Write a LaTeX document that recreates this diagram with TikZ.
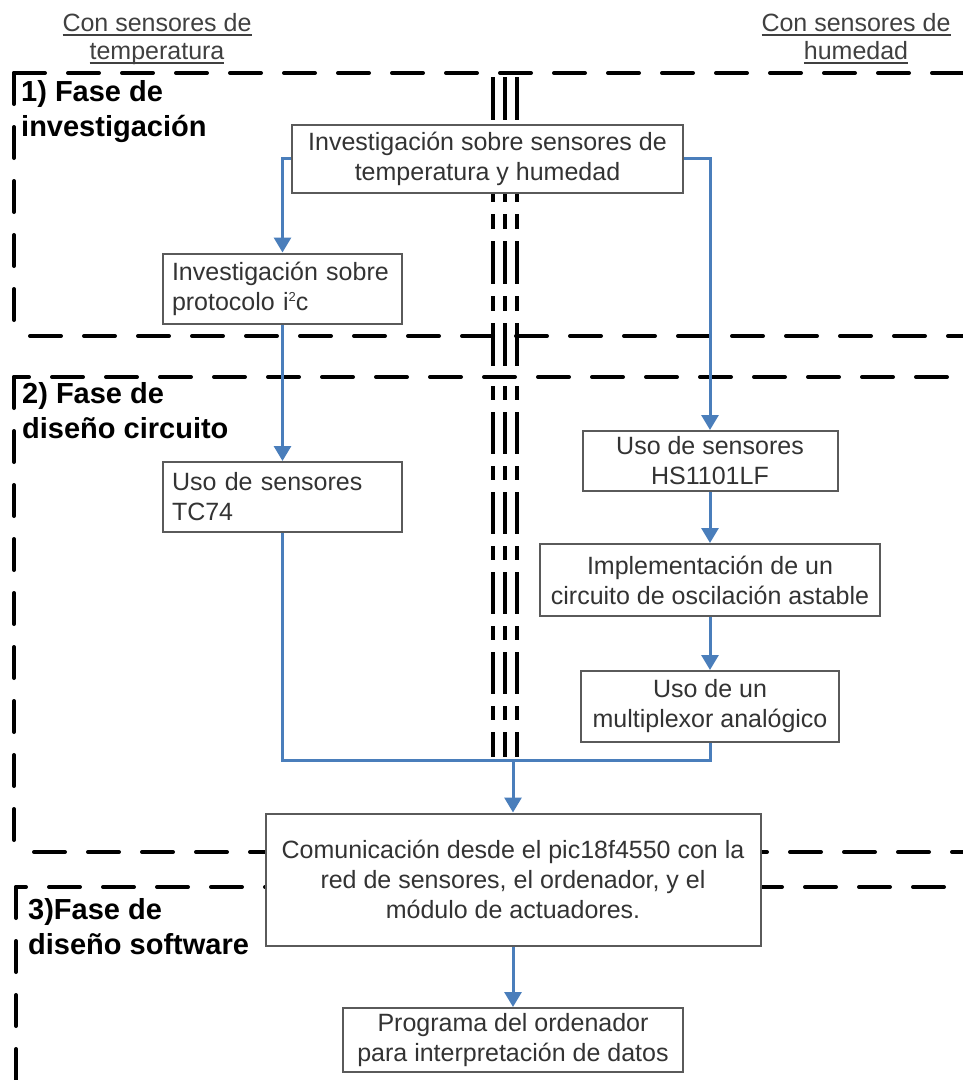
\documentclass[tikz,border=0pt]{standalone}
\usepackage{fontspec}
\setmainfont{Liberation Sans}
\usetikzlibrary{arrows.meta}

\definecolor{flowblue}{HTML}{4A7EBB}
\definecolor{boxtext}{HTML}{333333}
\definecolor{boxedge}{HTML}{5A5A5A}
\definecolor{lanetext}{HTML}{404040}

% underline at a fixed depth below the baseline
\newcommand\uln[1]{\setbox0\hbox{#1}\rlap{\rule[-4.5pt]{\wd0}{1.6pt}}\box0}

\begin{document}
\begin{tikzpicture}[x=1pt,y=-1pt,
  phaseline/.style={line width=4pt, line cap=round, dash pattern=on 31pt off 23pt},
  laneA/.style={line width=3.5pt, dash pattern=on 43pt off 12pt on 15pt off 12pt},
  laneB/.style={line width=3.5pt, dash pattern=on 42pt off 12pt on 14pt off 12pt, dash phase=51pt},
  stepbox/.style={draw=boxedge, line width=2pt, fill=white, text=boxtext,
    font=\fontsize{25}{30}\selectfont, inner sep=0pt, align=center},
  leftbox/.style={stepbox, align=left, text width=221pt,
    minimum width=239pt, minimum height=70pt},
  flow/.style={draw=flowblue, line width=3pt, -{Triangle[width=17pt,length=15pt]}},
  bus/.style={draw=flowblue, line width=3pt},
  heading/.style={font=\bfseries\fontsize{29}{35}\selectfont, align=left,
    anchor=north west, inner sep=0pt},
  lanelabel/.style={font=\fontsize{25}{28}\selectfont, text=lanetext,
    align=center, inner sep=0pt, anchor=north}
]
\useasboundingbox (0,0) rectangle (963,1080);

% phase frames (open to the right)
\draw[phaseline] (14,73) -- (1000,73);
\draw[phaseline] (14,73) -- (14,330);
\draw[phaseline] (30,336) -- (1000,336);

\draw[phaseline, dash phase=16pt] (14,377) -- (1000,377);
\draw[phaseline] (14,377) -- (14,848);
\draw[phaseline] (34,852) -- (1000,852);

\draw[phaseline, dash phase=21pt] (16,887) -- (1000,887);
\draw[phaseline] (16,887) -- (16,1084);
\draw[phaseline] (42,1081.5) -- (1000,1081.5);

% triple separator between the two sensor lanes
\foreach \x in {493,505,517} {
  \draw[laneA] (\x,77) -- (\x,366);
  \draw[laneB] (\x,383) -- (\x,757);
}

% lane titles
\node[lanelabel] (lanetemp) at (157,13) {\uln{Con sensores de}\\\uln{temperatura}};
\node[lanelabel] (lanehum) at (856,13) {\uln{Con sensores de}\\\uln{humedad}};

% phase titles
\node[heading] (ph1) at (21,80) {1) Fase de\\investigación};
\node[heading] (ph2) at (22,382) {2) Fase de\\diseño circuito};
\node[heading] (ph3) at (28,898) {3)Fase de\\diseño software};

% steps
\node[stepbox, minimum width=391pt, minimum height=68pt] (A) at (487.5,158.5)
  {Investigación sobre sensores de\\temperatura y humedad};
\node[leftbox] (B) at (282.5,288.5)
  {Investigación sobre\\protocolo i\raisebox{9pt}{\fontsize{13}{13}\selectfont 2}c};
\node[leftbox] (C) at (282.5,497) {Uso de sensores\\TC74};
\node[stepbox, minimum width=255pt, minimum height=60pt] (D) at (710,461)
  {Uso de sensores\\HS1101LF};
\node[stepbox, minimum width=340pt, minimum height=72pt] (E) at (710,580)
  {Implementación de un\\circuito de oscilación astable};
\node[stepbox, minimum width=258pt, minimum height=71pt] (F) at (710,706.5)
  {Uso de un\\multiplexor analógico};
\node[stepbox, minimum width=495pt, minimum height=132pt] (G) at (513,879.5)
  {Comunicación desde el pic18f4550 con la\\red de sensores, el ordenador, y el\\módulo de actuadores.};
\node[stepbox, minimum width=340pt, minimum height=64pt] (H) at (513,1040)
  {Programa del ordenador\\para interpretación de datos};

% flow
\coordinate (merge) at (513,760);
\draw[flow] (A.west) -| (B.north);
\draw[flow] (A.east) -| (D.north);
\draw[flow] (B.south) -- (C.north);
\draw[flow] (D.south) -- (E.north);
\draw[flow] (E.south) -- (F.north);
\draw[bus] (C.south) |- (merge) -| (F.south);
\draw[flow] (merge) -- (G.north);
\draw[flow] (G.south) -- (H.north);
\end{tikzpicture}
\end{document}
